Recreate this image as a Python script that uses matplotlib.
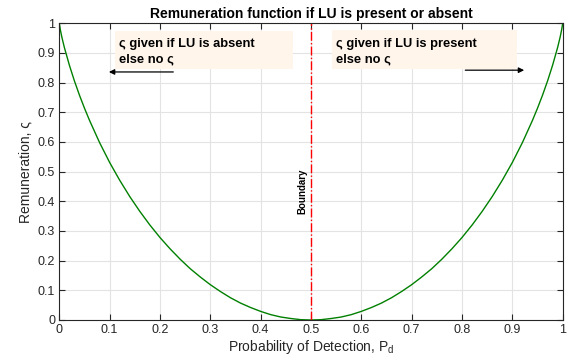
import matplotlib
matplotlib.use("Agg")
from matplotlib import pyplot as plt
from matplotlib.patches import Rectangle

# values
pd_vals = [0.0, 0.002, 0.005, 0.01, 0.02, 0.03, 0.04, 0.05, 0.06, 0.08, 0.10, 0.12, 0.14,
           0.16, 0.18, 0.20, 0.22, 0.24, 0.26, 0.28, 0.30, 0.32, 0.34, 0.36, 0.38,
           0.40, 0.42, 0.44, 0.46, 0.48, 0.50,
           0.52, 0.54, 0.56, 0.58, 0.60, 0.62, 0.64, 0.66, 0.68, 0.70, 0.72, 0.74,
           0.76, 0.78, 0.80, 0.82, 0.84, 0.86, 0.88, 0.90, 0.92, 0.94, 0.95, 0.96,
           0.97, 0.98, 0.99, 0.995, 0.998, 1.0]
remuneration = [1.0, 0.979, 0.954, 0.919, 0.859, 0.806, 0.758, 0.714, 0.673, 0.598, 0.531,
                0.471, 0.416, 0.366, 0.320, 0.278, 0.240, 0.205, 0.173, 0.145, 0.119,
                0.096, 0.075, 0.057, 0.042, 0.029, 0.018, 0.010, 0.005, 0.001, 0.0,
                0.001, 0.005, 0.010, 0.018, 0.029, 0.042, 0.057, 0.075, 0.096, 0.119,
                0.145, 0.173, 0.205, 0.240, 0.278, 0.320, 0.366, 0.416, 0.471, 0.531,
                0.598, 0.673, 0.714, 0.758, 0.806, 0.859, 0.919, 0.954, 0.979, 1.0]
boundary = 0.5
ticks = [0, 0.1, 0.2, 0.3, 0.4, 0.5, 0.6, 0.7, 0.8, 0.9, 1]
tick_labels = ["0", "0.1", "0.2", "0.3", "0.4", "0.5", "0.6", "0.7", "0.8", "0.9", "1"]

plt.rcParams['font.family'] = ['Liberation Sans', 'DejaVu Sans']
plt.rcParams['mathtext.default'] = 'regular'

fig = plt.figure(figsize=(5.74, 3.63), dpi=100)
ax = fig.add_axes([0.1033, 0.1185, 0.877, 0.8173])

dark = '#262626'
ax.plot(pd_vals, remuneration, color='#008000', linewidth=1.0)
ax.axvline(boundary, color='red', linestyle='-.', linewidth=1.0)

ax.set_xlim(0, 1)
ax.set_ylim(0, 1)
ax.set_xticks(ticks)
ax.set_xticklabels(tick_labels)
ax.set_yticks(ticks)
ax.set_yticklabels(tick_labels)
ax.grid(True, color='#e3e3e3', linewidth=0.8)
ax.set_axisbelow(True)
ax.tick_params(direction='in', top=True, right=True, length=4, width=0.8,
               colors=dark, labelsize=9, pad=3)
for s in ax.spines.values():
    s.set_color(dark)
    s.set_linewidth(0.8)

ax.set_title('Remuneration function if LU is present or absent', fontsize=10,
             fontweight='bold', pad=4)
ax.set_xlabel('Probability of Detection, P$_{d}$', fontsize=10, color=dark, labelpad=1)
ax.set_ylabel('Remuneration, ς', fontsize=10, color=dark, labelpad=4)

ax.text(0.492, 0.435, 'Boundary', rotation=90, ha='right', va='center',
        fontsize=7, fontweight='bold')

# annotation boxes
ax.add_patch(Rectangle((0.111, 0.846), 0.353, 0.128, facecolor='#fff5eb',
                       edgecolor='none', zorder=2))
ax.add_patch(Rectangle((0.541, 0.846), 0.368, 0.130, facecolor='#fff5eb',
                       edgecolor='none', zorder=2))
ax.text(0.119, 0.905, 'ς given if LU is absent\nelse no ς', fontsize=9.3, fontweight='bold',
        va='center', ha='left', linespacing=1.35, zorder=3)
ax.text(0.549, 0.905, 'ς given if LU is present\nelse no ς', fontsize=9.3, fontweight='bold',
        va='center', ha='left', linespacing=1.35, zorder=3)

ax.annotate('', xy=(0.093, 0.836), xytext=(0.232, 0.836),
            arrowprops=dict(arrowstyle='-|>', color='black', lw=0.9, mutation_scale=8))
ax.annotate('', xy=(0.929, 0.842), xytext=(0.801, 0.842),
            arrowprops=dict(arrowstyle='-|>', color='black', lw=0.9, mutation_scale=8))

fig.savefig('out.png', dpi=100)
